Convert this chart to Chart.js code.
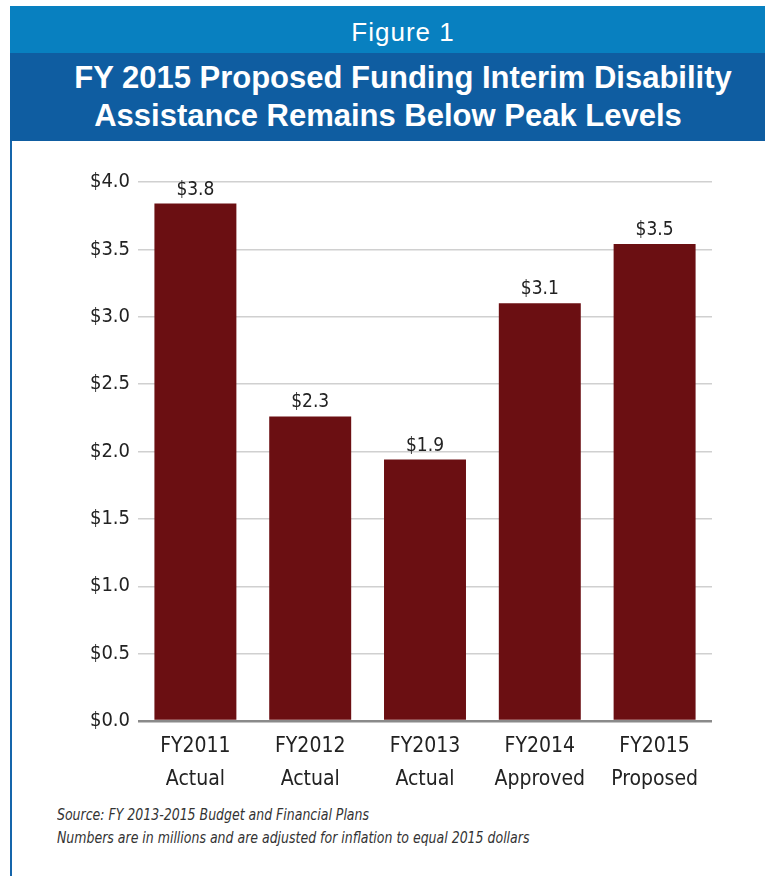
<!DOCTYPE html>
<html>
<head>
<meta charset="utf-8">
<script src="https://cdn.jsdelivr.net/npm/chart.js@4.4.0/dist/chart.umd.min.js"></script>
<style>
    body { margin: 0; width: 765px; height: 876px; background: #fff; position: relative; overflow: hidden;
           font-family: 'DejaVu Sans Condensed', 'Liberation Sans', sans-serif; }
    #band1 { position: absolute; left: 10px; top: 6px; width: 755px; height: 47px; background: #0880c0; }
    #band2 { position: absolute; left: 10px; top: 53px; width: 755px; height: 88px; background: #0f5da1; }
    #edge { position: absolute; left: 10px; top: 141px; width: 2px; height: 735px; background: #1565ab; }
    .white { position: absolute; color: #fff; white-space: nowrap; }
    #fig { left: 0; width: 806px; text-align: center; top: 17px; font-size: 26px; line-height: 30px;
           font-family: 'Liberation Sans', sans-serif; letter-spacing: 1px; }
    .head { font-family: 'Liberation Sans', sans-serif; font-weight: bold;
            font-size: 31px; line-height: 38px; text-align: center; }
    #h1 { left: 0; width: 806px; top: 59px; }
    #h2 { left: 0; width: 776px; top: 97px; }
    #wrap { position: absolute; left: 0; top: 141px; width: 765px; height: 660px; }
    #source { position: absolute; left: 57px; top: 803px; font-style: italic; font-size: 16px;
              line-height: 23px; color: #333; white-space: nowrap;
              transform: scaleX(0.87); transform-origin: 0 0; }
</style>
</head>
<body>
<div id="band1"></div>
<div id="band2"></div>
<div id="edge"></div>
<div id="fig" class="white">Figure 1</div>
<div id="h1" class="white head">FY 2015 Proposed Funding Interim Disability</div>
<div id="h2" class="white head">Assistance Remains Below Peak Levels</div>
<div id="wrap"><canvas id="chart" width="765" height="660"></canvas></div>
<div id="source">Source: FY 2013-2015 Budget and Financial Plans<br>Numbers are in millions and are adjusted for inflation to equal 2015 dollars</div>

<script>
// 類別與數值
const categories = [
    ['FY2011', 'Actual'],
    ['FY2012', 'Actual'],
    ['FY2013', 'Actual'],
    ['FY2014', 'Approved'],
    ['FY2015', 'Proposed']
];
const funding = [3.84, 2.26, 1.94, 3.10, 3.54];
const valueLabels = ['$3.8', '$2.3', '$1.9', '$3.1', '$3.5'];

const fontFamily = "'DejaVu Sans Condensed', 'Liberation Sans', sans-serif";

// 在柱子上方畫數值
const valueLabelPlugin = {
    id: 'valueLabels',
    afterDatasetsDraw(chart) {
        const ctx = chart.ctx;
        const meta = chart.getDatasetMeta(0);
        ctx.save();
        ctx.fillStyle = '#222';
        ctx.font = `19px ${fontFamily}`;
        ctx.textAlign = 'center';
        ctx.textBaseline = 'alphabetic';
        meta.data.forEach((bar, i) => {
            ctx.fillText(valueLabels[i], bar.x, bar.y - 9);
        });
        ctx.restore();
    }
};

new Chart(document.getElementById('chart'), {
    type: 'bar',
    data: {
        labels: categories,
        datasets: [{
            data: funding,
            backgroundColor: '#6b0f12',
            barPercentage: 0.714,
            categoryPercentage: 1.0
        }]
    },
    options: {
        responsive: false,
        animation: false,
        layout: { padding: { top: 41, right: 53, left: 0, bottom: 0 } },
        plugins: {
            legend: { display: false },
            tooltip: { enabled: false }
        },
        scales: {
            x: {
                grid: { display: false },
                border: { display: false },
                ticks: {
                    color: '#222',
                    font: { size: 21, family: fontFamily, lineHeight: 1.57 },
                    padding: 1,
                    maxRotation: 0
                },
                afterFit(scale) { scale.height = 80; }
            },
            y: {
                min: 0,
                max: 4,
                border: { display: false },
                grid: {
                    drawTicks: false,
                    color: ctx => ctx.tick.value === 0 ? '#8a8a8a' : '#d0d0d0',
                    lineWidth: ctx => ctx.tick.value === 0 ? 2.5 : 1.5
                },
                ticks: {
                    stepSize: 0.5,
                    color: '#222',
                    padding: 8,
                    font: { size: 20, family: fontFamily },
                    callback: v => '$' + v.toFixed(1)
                },
                afterFit(scale) { scale.width = 138; }
            }
        }
    },
    plugins: [valueLabelPlugin]
});
</script>
</body>
</html>
